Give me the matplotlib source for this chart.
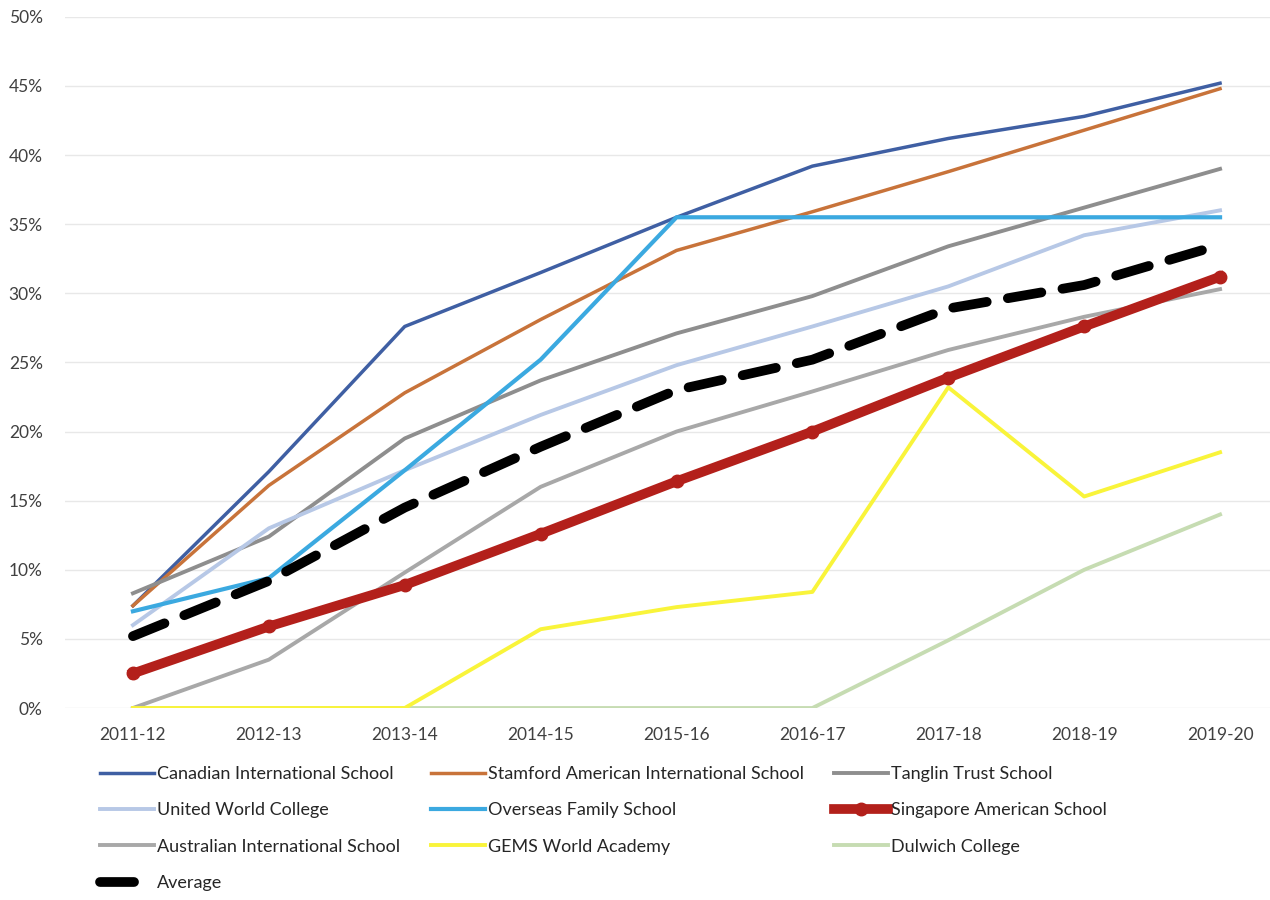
import matplotlib
matplotlib.use("Agg")
from matplotlib import pyplot as plt
from matplotlib.ticker import PercentFormatter

# School years on the x axis
years = ["2011-12", "2012-13", "2013-14", "2014-15", "2015-16",
         "2016-17", "2017-18", "2018-19", "2019-20"]

# Percent values
canadian = [7.4, 17.1, 27.6, 31.5, 35.5, 39.2, 41.2, 42.8, 45.2]
stamford = [7.4, 16.1, 22.8, 28.1, 33.1, 35.9, 38.8, 41.8, 44.8]
tanglin = [8.3, 12.4, 19.5, 23.7, 27.1, 29.8, 33.4, 36.2, 39.0]
uwc = [6.0, 13.0, 17.2, 21.2, 24.8, 27.6, 30.5, 34.2, 36.0]
overseas = [7.0, 9.4, 17.2, 25.2, 35.5, 35.5, 35.5, 35.5, 35.5]
sas = [2.5, 5.9, 8.9, 12.6, 16.4, 20.0, 23.9, 27.6, 31.2]
australian = [0.0, 3.5, 9.8, 16.0, 20.0, 22.9, 25.9, 28.3, 30.3]
gems = [0.0, 0.0, 0.0, 5.7, 7.3, 8.4, 23.2, 15.3, 18.5]
dulwich = [0.0, 0.0, 0.0, 0.0, 0.0, 0.0, 4.9, 10.0, 14.0]
average = [5.2, 9.2, 14.5, 18.9, 23.0, 25.2, 28.9, 30.6, 33.5]

plt.rcParams["font.family"] = ["Lato", "DejaVu Sans"]

fig = plt.figure(figsize=(12.7, 9), dpi=100)
ax = fig.add_axes([65 / 1270, 0.2133, (1288 - 65) / 1270, 0.768])

x = range(len(years))

l_can, = ax.plot(x, canadian, color="#3F5FA3", lw=2.5, label="Canadian International School", zorder=3)
l_sta, = ax.plot(x, stamford, color="#C8733A", lw=2.5, label="Stamford American International School", zorder=3)
l_tan, = ax.plot(x, tanglin, color="#8E8E8E", lw=2.8, label="Tanglin Trust School", zorder=3)
l_uwc, = ax.plot(x, uwc, color="#B7C8E6", lw=2.8, label="United World College", zorder=3)
l_ove, = ax.plot(x, overseas, color="#3BA9E0", lw=3, label="Overseas Family School", zorder=3)
l_aus, = ax.plot(x, australian, color="#A8A8A8", lw=2.8, label="Australian International School", zorder=3)
l_gem, = ax.plot(x, gems, color="#F9F43A", lw=2.8, label="GEMS World Academy", zorder=3)
l_dul, = ax.plot(x, dulwich, color="#C6DCB2", lw=2.8, label="Dulwich College", zorder=2.5)
l_sas, = ax.plot(x, sas, color="#B3201B", lw=7, marker="o", markersize=9,
                 label="Singapore American School", zorder=4)
l_avg, = ax.plot(x, average, color="black", lw=7, dashes=(3.5, 2.2),
                 dash_capstyle="round", label="Average", zorder=5)

ax.set_xlim(-0.5, len(years) - 0.5)
ax.set_ylim(0, 50)
ax.set_yticks(range(0, 51, 5))
ax.yaxis.set_major_formatter(PercentFormatter(decimals=0))
ax.set_xticks(list(x))
ax.set_xticklabels(years)
ax.tick_params(axis="both", length=0, labelsize=12.5, colors="#404040")
ax.tick_params(axis="y", pad=16)
ax.tick_params(axis="x", pad=14)
ax.grid(axis="y", color="#E8E8E8", lw=1)
ax.set_axisbelow(True)
for s in ax.spines.values():
    s.set_visible(False)

# legend filled column by column, so order handles to match the row layout
handles = [l_can, l_uwc, l_aus, l_avg,
           l_sta, l_ove, l_gem,
           l_tan, l_sas, l_dul]
fig.legend(handles=handles, labels=[h.get_label() for h in handles],
           ncol=3, loc="upper left", bbox_to_anchor=(100 / 1270, 1 - 766 / 900),
           frameon=False, fontsize=13, handlelength=3.0, handletextpad=0.15,
           columnspacing=1.7, labelspacing=1.13, borderpad=0, borderaxespad=0,
           labelcolor="#262626")

fig.savefig("out.png", dpi=100)
